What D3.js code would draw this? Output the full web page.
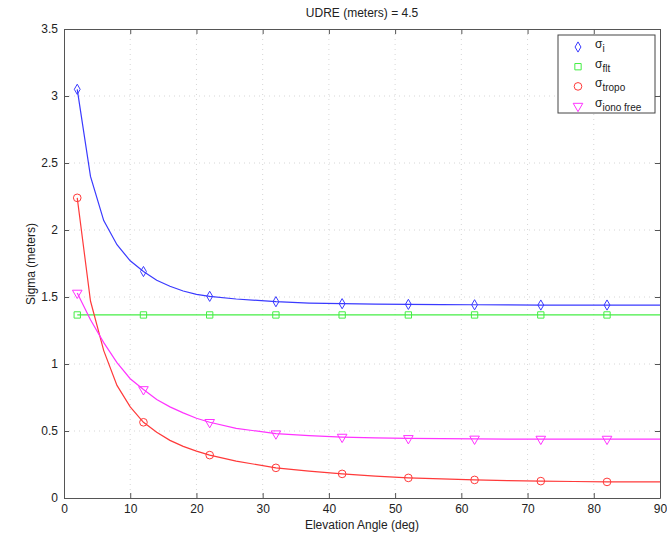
<!DOCTYPE html>
<html><head><meta charset="utf-8">
<script src="https://cdn.jsdelivr.net/npm/d3@7"></script>
<style>body{margin:0;background:#fff}svg{display:block}text{font-family:"Liberation Sans",Arial,sans-serif}</style>
</head><body>
<svg id="c" width="667" height="537"></svg>
<script>
const lineElev   = [2,4,6,8,10,12,14,16,18,20,22,26,32,37,42,47,52,57,62,67,72,77,82,86,90];
const markerElev = [2,12,22,32,42,52,62,72,82];
const sigmaI     = [3.05,2.40,2.07,1.89,1.77,1.69,1.625,1.58,1.545,1.52,1.505,1.485,1.465,1.455,1.45,1.447,1.445,1.443,1.442,1.441,1.44,1.44,1.44,1.44,1.44];
const sigmaFlt   = [1.366,1.366,1.366,1.366,1.366,1.366,1.366,1.366,1.366,1.366,1.366,1.366,1.366,1.366,1.366,1.366,1.366,1.366,1.366,1.366,1.366,1.366,1.366,1.366,1.366];
const sigmaTropo = [2.24,1.47,1.10,0.84,0.68,0.565,0.49,0.43,0.385,0.35,0.32,0.275,0.225,0.2,0.18,0.163,0.15,0.142,0.135,0.13,0.126,0.123,0.12,0.12,0.12];
const sigmaIono  = [1.53,1.33,1.16,1.01,0.89,0.81,0.735,0.68,0.635,0.595,0.565,0.52,0.48,0.465,0.455,0.449,0.445,0.443,0.441,0.44,0.44,0.44,0.44,0.44,0.44];
const xTicks = [0,10,20,30,40,50,60,70,80,90];
const yTicks = [0,0.5,1,1.5,2,2.5,3,3.5];
const seriesNames = ["i","flt","tropo","iono free"];
const seriesColors = ["#3a3aff","#44ee44","#ff3a3a","#ff33ff"];
const seriesMarkers = ["diamond","square","circle","triangle"];
const seriesValues = [sigmaI, sigmaFlt, sigmaTropo, sigmaIono];

const svg = d3.select("#c");
const L=64, R=660, T=29, B=498;
const x = d3.scaleLinear().domain([0,90]).range([L,R]);
const y = d3.scaleLinear().domain([0,3.5]).range([B,T]);
const axisColor="#555";

// grid
const g = svg.append("g");
g.selectAll(".gx").data(xTicks.slice(1,-1)).join("line")
 .attr("x1",d=>x(d)).attr("x2",d=>x(d)).attr("y1",T).attr("y2",B)
 .attr("stroke","#ccc").attr("stroke-width",0.8).attr("stroke-dasharray","1,4");
g.selectAll(".gy").data(yTicks.slice(1,-1)).join("line")
 .attr("y1",d=>y(d)).attr("y2",d=>y(d)).attr("x1",L).attr("x2",R)
 .attr("stroke","#ccc").attr("stroke-width",0.8).attr("stroke-dasharray","1,4");

// axes
const fmt = d=>String(d);
const ax = (gen, tr) => {
  const a = svg.append("g").attr("transform",tr).call(gen);
  a.select(".domain").attr("stroke",axisColor);
  a.selectAll(".tick line").attr("stroke",axisColor);
  a.selectAll(".tick text").attr("fill","#222").style("font-size","12px");
  return a;
};
ax(d3.axisBottom(x).tickValues(xTicks).tickFormat(fmt).tickSizeInner(-5).tickSizeOuter(0).tickPadding(6), `translate(0,${B})`);
ax(d3.axisLeft(y).tickValues(yTicks).tickFormat(fmt).tickSizeInner(-5).tickSizeOuter(0).tickPadding(6), `translate(${L},0)`);
ax(d3.axisTop(x).tickValues(xTicks).tickFormat("").tickSizeInner(-5).tickSizeOuter(0), `translate(0,${T})`);
ax(d3.axisRight(y).tickValues(yTicks).tickFormat("").tickSizeInner(-5).tickSizeOuter(0), `translate(${R},0)`);

// lines
const line = d3.line().x(d=>x(d[0])).y(d=>y(d[1]));
const symbolFor = {
  diamond: d3.symbol().type(d3.symbolDiamond).size(30),
  square: d3.symbol().type(d3.symbolSquare).size(40),
  circle: d3.symbol().type(d3.symbolCircle).size(46),
  triangle: d3.symbol().type(d3.symbolTriangle).size(40)
};
const plot = svg.append("g");
seriesValues.forEach((vals,i)=>{
  const pts = lineElev.map((e,k)=>[e,vals[k]]);
  plot.append("path").attr("d",line(pts)).attr("fill","none")
    .attr("stroke",seriesColors[i]).attr("stroke-width",1.2);
  const mk = markerElev.map(e=>[e, vals[lineElev.indexOf(e)]]);
  plot.selectAll(null).data(mk).join("path")
    .attr("d",symbolFor[seriesMarkers[i]]())
    .attr("transform",d=>`translate(${x(d[0])},${y(d[1])})${seriesMarkers[i]==="triangle"?" rotate(180)":""}`)
    .attr("fill","none").attr("stroke",seriesColors[i]).attr("stroke-width",1);
});

// title & labels
svg.append("text").attr("x",362).attr("y",17).attr("text-anchor","middle").style("font-size","12px").attr("fill","#222").text("UDRE (meters) = 4.5");
svg.append("text").attr("x",362).attr("y",529).attr("text-anchor","middle").style("font-size","12px").attr("fill","#222").text("Elevation Angle (deg)");
svg.append("text").attr("transform","translate(35,264) rotate(-90)").attr("text-anchor","middle").style("font-size","12px").attr("fill","#222").text("Sigma (meters)");

// legend
const lg = svg.append("g");
lg.append("rect").attr("x",558).attr("y",35).attr("width",97).attr("height",78)
  .attr("fill","#fff").attr("stroke","#444").attr("stroke-width",1);
seriesNames.forEach((n,i)=>{
  const yy = 47 + i*19.7;
  lg.append("path").attr("d",symbolFor[seriesMarkers[i]]())
    .attr("transform",`translate(578,${yy})${seriesMarkers[i]==="triangle"?" rotate(180)":""}`)
    .attr("fill","none").attr("stroke",seriesColors[i]).attr("stroke-width",1);
  const t = lg.append("text").attr("x",595).attr("y",yy+1).attr("fill","#222").style("font-size","12px");
  t.append("tspan").text("σ");
  t.append("tspan").attr("dy",4).style("font-size","10px").text(n);
});
</script>
</body></html>
